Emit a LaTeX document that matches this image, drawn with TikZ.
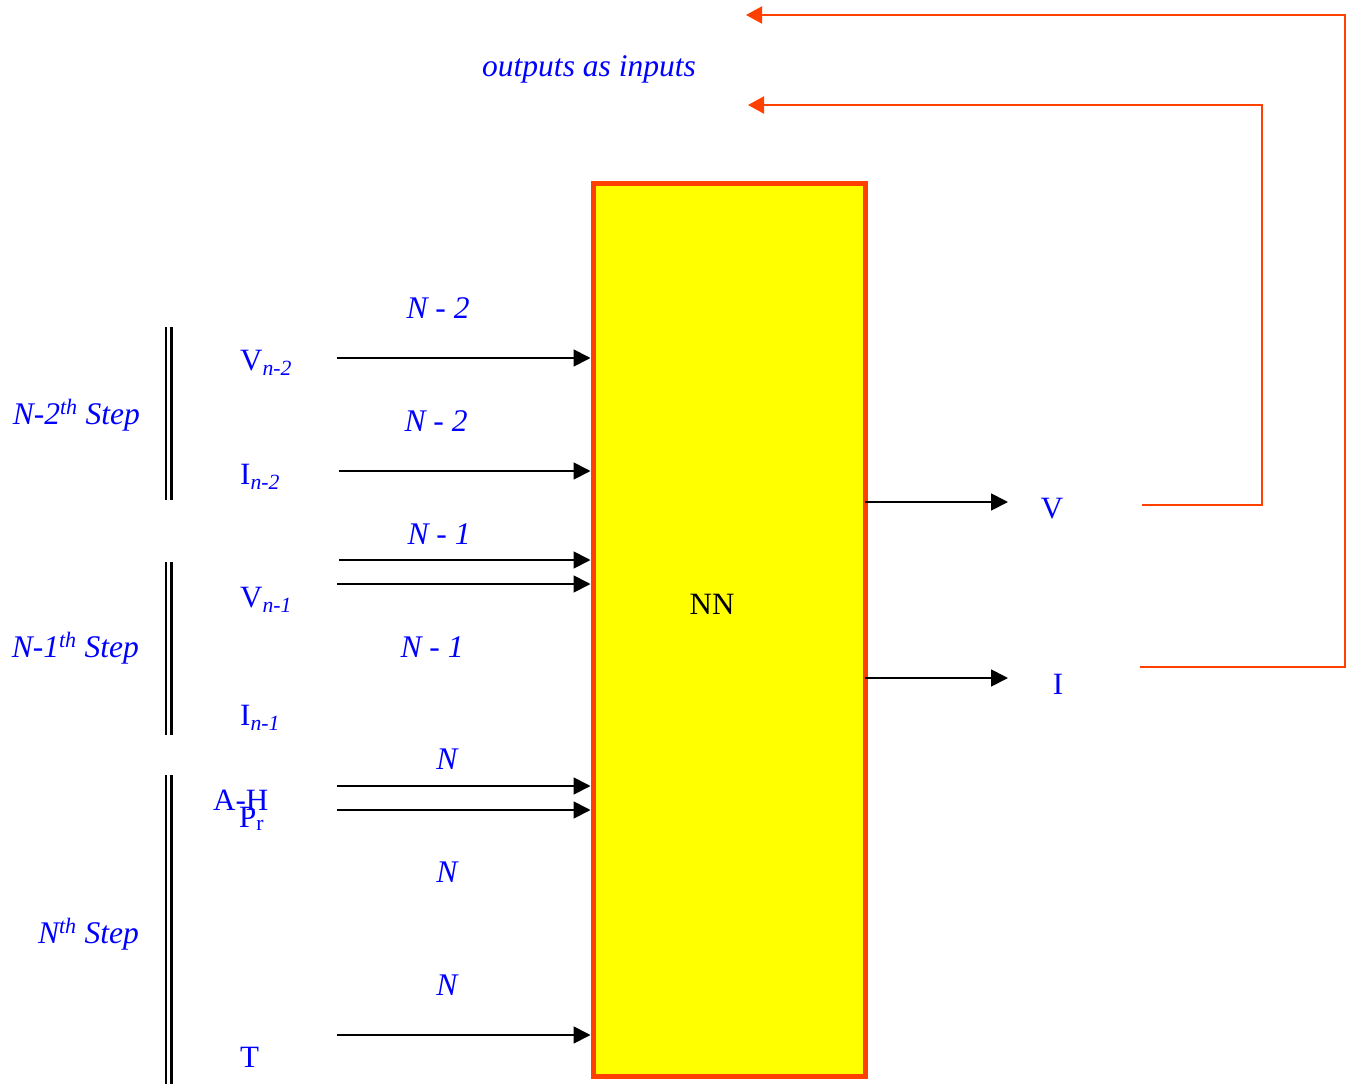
\documentclass[tikz,border=0pt]{standalone}
\usepackage{fontspec}
\setmainfont{Liberation Serif}
\usetikzlibrary{arrows.meta}
\definecolor{fb}{RGB}{255,64,0}
\definecolor{txtblue}{RGB}{0,0,255}
\definecolor{boxyel}{RGB}{255,255,0}
\begin{document}
\begin{tikzpicture}[x=1pt,y=-1pt,
  lbl/.style={text=txtblue, font=\fontsize{31}{37}\selectfont, inner sep=0pt, anchor=base west},
  clbl/.style={text=txtblue, font=\fontsize{31.5}{37}\selectfont\itshape, inner sep=0pt, anchor=base},
  steplbl/.style={text=txtblue, font=\fontsize{31.5}{37}\selectfont\itshape, inner sep=0pt, anchor=base east},
  arr/.style={line width=1.8pt, black, -{Triangle[length=17pt,width=17pt]}},
  fbline/.style={line width=2pt, fb, -{Triangle[length=16pt,width=17pt]}},
  bar/.style={line width=2.5pt, black},
  nnbox/.style={draw=fb, line width=5pt, fill=boxyel, minimum width=272pt, minimum height=893pt, inner sep=0pt, outer sep=0pt}
]
\useasboundingbox (0,0) rectangle (1353,1084);

% main box
\node[nnbox] (nn) at (729,629.5) {};
\node[inner sep=0pt, anchor=base, font=\fontsize{31}{37}\selectfont] (nntxt) at (712,614) {NN};

% step bars
\draw[bar] (166,327) -- (166,500);
\draw[bar] (171.5,327) -- (171.5,500);
\draw[bar] (166,562) -- (166,735);
\draw[bar] (171.5,562) -- (171.5,735);
\draw[bar] (166,775) -- (166,1084);
\draw[bar] (171.5,775) -- (171.5,1084);

% step labels
\node[steplbl] (s2) at (140,424) {N-2\textsuperscript{th} Step};
\node[steplbl] (s1) at (139,657) {N-1\textsuperscript{th} Step};
\node[steplbl] (s0) at (139,943) {N\textsuperscript{th} Step};

% input labels
\node[lbl] (vn2) at (240,370) {V\textsubscript{\itshape n-2}};
\node[lbl] (in2) at (240,484) {I\textsubscript{\itshape n-2}};
\node[lbl] (vn1) at (240,607) {V\textsubscript{\itshape n-1}};
\node[lbl] (in1) at (240,725) {I\textsubscript{\itshape n-1}};
\node[lbl] (ah) at (213,810) {A-H};
\node[lbl] (pr) at (239,827) {P\textsubscript{r}};
\node[lbl] (tt) at (240,1067) {T};

% arrow labels
\node[clbl] (l1) at (438,318) {N - 2};
\node[clbl] (l2) at (436,431) {N - 2};
\node[clbl] (l3) at (439,544) {N - 1};
\node[clbl] (l4) at (432,657) {N - 1};
\node[clbl] (l5) at (447,769) {N};
\node[clbl] (l6) at (447,882) {N};
\node[clbl] (l7) at (447,995) {N};

\node[clbl] (oai) at (589,76) {outputs as inputs};

% input arrow starts
\coordinate (a1) at (337,358);
\coordinate (a2) at (339,471);
\coordinate (a3) at (339,560);
\coordinate (a4) at (337,584);
\coordinate (a5) at (337,786);
\coordinate (a6) at (337,810);
\coordinate (a7) at (337,1035);
\foreach \c in {a1,a2,a3,a4,a5,a6,a7}
  \draw[arr] (\c) -- ([xshift=-2.5pt]nn.west |- \c);

% outputs
\coordinate (vo) at (1008,502);
\coordinate (io) at (1008,678);
\draw[arr] (nn.east |- vo) -- (vo);
\draw[arr] (nn.east |- io) -- (io);
\node[lbl, anchor=base] (vlab) at (1052,518) {V};
\node[lbl, anchor=base] (ilab) at (1058,694) {I};

% feedback
\coordinate (vs) at (1142,505);
\coordinate (vt) at (748,105);
\coordinate (is) at (1140,667);
\coordinate (it) at (746,15);
\draw[fbline] (vs) -- ++(120,0) |- (vt);
\draw[fbline] (is) -- ++(205,0) |- (it);
\end{tikzpicture}
\end{document}
